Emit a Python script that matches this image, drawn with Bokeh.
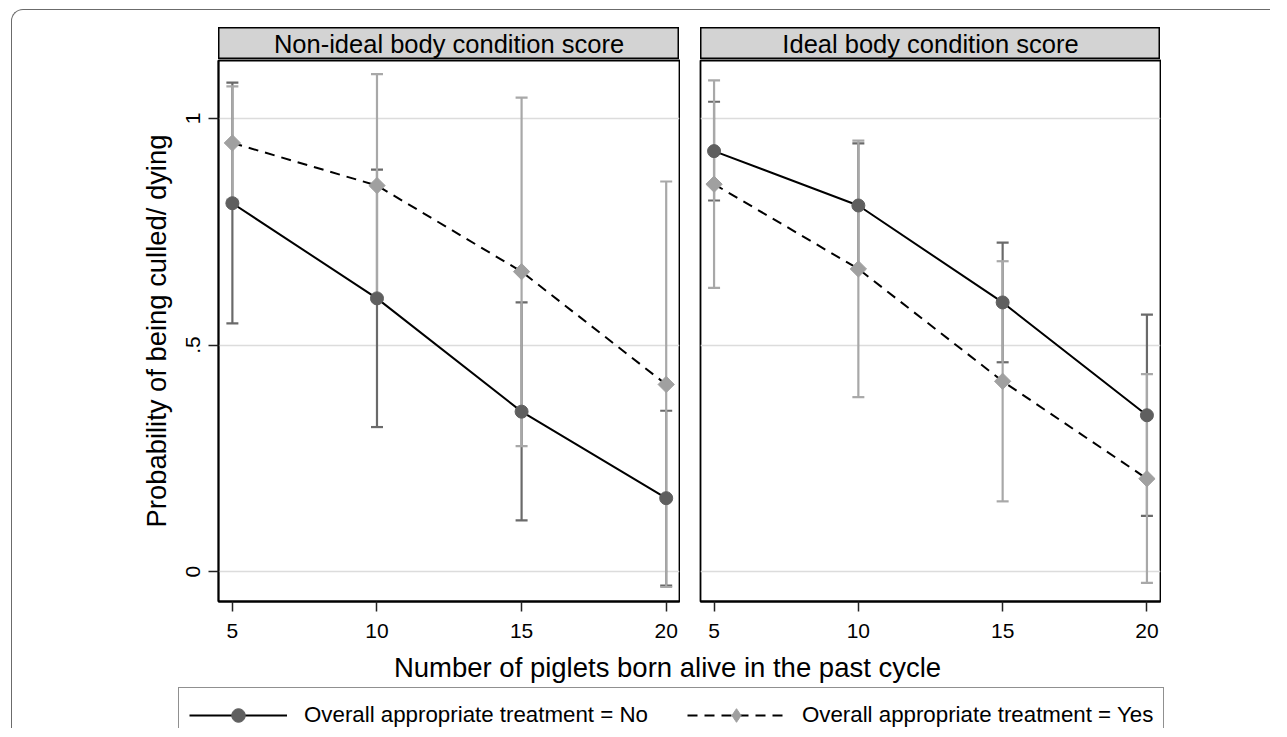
from bokeh.plotting import figure
from bokeh.models import (Range1d, FixedTicker, Whisker, TeeHead, ColumnDataSource, Label,
                          Legend, LegendItem, Spacer)
from bokeh.layouts import row, column
from bokeh.embed import file_html
from bokeh.resources import INLINE

# ---------------- data ----------------
piglets = [5, 10, 15, 20]
x_ticks = [5, 10, 15, 20]
y_ticks = [0, 0.5, 1]
y_tick_labels = {0: "0", 0.5: ".5", 1: "1"}
panel_titles = ["Non-ideal body condition score", "Ideal body condition score"]
series_labels = ["Overall appropriate treatment = No", "Overall appropriate treatment = Yes"]

nonideal_no = [0.813, 0.603, 0.353, 0.162]
nonideal_no_lo = [0.548, 0.319, 0.113, -0.031]
nonideal_no_hi = [1.079, 0.887, 0.594, 0.355]
nonideal_yes = [0.946, 0.852, 0.662, 0.413]
nonideal_yes_lo = [0.821, 0.606, 0.277, -0.034]
nonideal_yes_hi = [1.071, 1.098, 1.046, 0.861]

ideal_no = [0.928, 0.808, 0.594, 0.345]
ideal_no_lo = [0.819, 0.670, 0.462, 0.123]
ideal_no_hi = [1.037, 0.945, 0.726, 0.567]
ideal_yes = [0.855, 0.668, 0.420, 0.205]
ideal_yes_lo = [0.626, 0.385, 0.155, -0.025]
ideal_yes_hi = [1.084, 0.951, 0.685, 0.436]

FONT = "Liberation Sans"
DARK = "#5f5f5f"
DARK_CI = "#6a6a6a"
LIGHT = "#a0a0a0"
LIGHT_CI = "#a8a8a8"
DIAMOND = 11.5


def header(title, width):
    h = figure(width=width, height=32, x_range=Range1d(0, 1), y_range=Range1d(0, 1),
               x_axis_location=None, y_axis_location=None, min_border=0,
               toolbar_location=None, output_backend="svg",
               background_fill_color="#d3d3d3", border_fill_color="#d3d3d3",
               outline_line_color="black", outline_line_width=2)
    h.xgrid.visible = False
    h.ygrid.visible = False
    h.add_layout(Label(x=width / 2, y=16, x_units="screen", y_units="screen", text=title,
                       text_align="center", text_baseline="middle",
                       text_font=FONT, text_font_size="25.5px", text_color="black"))
    return h


def panel(width, min_left, xr, show_y, no, no_lo, no_hi, yes, yes_lo, yes_hi):
    p = figure(width=width, height=592, x_range=Range1d(*xr), y_range=Range1d(-0.066, 1.128),
               min_border_left=min_left, min_border_right=1, min_border_top=1, min_border_bottom=50,
               y_axis_location="left" if show_y else None,
               toolbar_location=None, output_backend="svg",
               outline_line_color="black", outline_line_width=1.8,
               background_fill_color="white", border_fill_color="white")
    p.xgrid.visible = False
    p.ygrid.ticker = FixedTicker(ticks=y_ticks)
    p.ygrid.grid_line_color = "#dcdcdc"
    p.ygrid.grid_line_width = 1.5

    p.xaxis.ticker = FixedTicker(ticks=x_ticks)
    p.xaxis.minor_tick_line_color = None
    p.xaxis.major_tick_out = 10
    p.xaxis.major_tick_in = 0
    p.xaxis.major_tick_line_color = "#222222"
    p.xaxis.major_tick_line_width = 1.5
    p.xaxis.axis_line_color = "black"
    p.xaxis.axis_line_width = 1.8
    p.xaxis.major_label_standoff = 12
    p.xaxis.major_label_text_font = FONT
    p.xaxis.major_label_text_font_size = "21px"
    p.xaxis.major_label_text_color = "black"

    if show_y:
        p.yaxis.ticker = FixedTicker(ticks=y_ticks)
        p.yaxis.major_label_overrides = y_tick_labels
        p.yaxis.major_label_orientation = "vertical"
        p.yaxis.minor_tick_line_color = None
        p.yaxis.major_tick_out = 10
        p.yaxis.major_tick_in = 0
        p.yaxis.major_tick_line_color = "#222222"
        p.yaxis.major_tick_line_width = 1.5
        p.yaxis.axis_line_color = "black"
        p.yaxis.axis_line_width = 1.8
        p.yaxis.major_label_standoff = 8
        p.yaxis.major_label_text_font = FONT
        p.yaxis.major_label_text_font_size = "21px"
        p.yaxis.major_label_text_color = "black"
        p.yaxis.axis_label = "Probability of being culled/ dying"
        p.yaxis.axis_label_text_font = FONT
        p.yaxis.axis_label_text_font_size = "27.4px"
        p.yaxis.axis_label_text_font_style = "normal"
        p.yaxis.axis_label_text_color = "black"
        p.yaxis.axis_label_standoff = 12

    src_no = ColumnDataSource(dict(x=piglets, y=no, lo=no_lo, hi=no_hi))
    src_yes = ColumnDataSource(dict(x=piglets, y=yes, lo=yes_lo, hi=yes_hi))

    for src, col in ((src_no, DARK_CI), (src_yes, LIGHT_CI)):
        w = Whisker(source=src, base="x", upper="hi", lower="lo", level="underlay",
                    line_color=col, line_width=2.2,
                    upper_head=TeeHead(size=12, line_color=col, line_width=2.2),
                    lower_head=TeeHead(size=12, line_color=col, line_width=2.2))
        p.add_layout(w)

    p.line("x", "y", source=src_no, line_color="black", line_width=2)
    p.line("x", "y", source=src_yes, line_color="black", line_width=2, line_dash="10 7")
    p.scatter("x", "y", source=src_no, marker="circle", size=13,
              fill_color=DARK, line_color=DARK)
    p.scatter("x", "y", source=src_yes, marker="square", size=DIAMOND, angle=0.785398,
              fill_color=LIGHT, line_color=LIGHT)
    return p


left = panel(668, 206, (4.52, 20.46), True,
             nonideal_no, nonideal_no_lo, nonideal_no_hi,
             nonideal_yes, nonideal_yes_lo, nonideal_yes_hi)
right = panel(481, 20, (4.53, 20.47), False,
              ideal_no, ideal_no_lo, ideal_no_hi,
              ideal_yes, ideal_yes_lo, ideal_yes_hi)

# ---------------- bottom: axis title + legend ----------------
# ranges chosen so the legend-only renderers (real data, x = 5..20) stay outside the view
bottom = figure(width=1258, height=77, x_range=Range1d(0, 1), y_range=Range1d(0, 1),
                x_axis_location=None, y_axis_location=None, min_border=0,
                toolbar_location=None, output_backend="svg", outline_line_color=None)
bottom.xgrid.visible = False
bottom.ygrid.visible = False
bottom.add_layout(Label(x=655, y=61, x_units="screen", y_units="screen",
                        text="Number of piglets born alive in the past cycle",
                        text_align="center", text_baseline="middle",
                        text_font=FONT, text_font_size="27.5px", text_color="black"))

leg_no = ColumnDataSource(dict(x=piglets, y=nonideal_no))
leg_yes = ColumnDataSource(dict(x=piglets, y=nonideal_yes))
l_no = bottom.line("x", "y", source=leg_no, line_color="black", line_width=2)
m_no = bottom.scatter("x", "y", source=leg_no, marker="circle", size=13,
                      fill_color=DARK, line_color=DARK)
l_yes = bottom.line("x", "y", source=leg_yes, line_color="black", line_width=2, line_dash="10 7")
m_yes = bottom.scatter("x", "y", source=leg_yes, marker="diamond", size=20,
                       fill_color=LIGHT, line_color=LIGHT)
legend = Legend(items=[LegendItem(label=series_labels[0], renderers=[l_no, m_no]),
                       LegendItem(label=series_labels[1], renderers=[l_yes, m_yes])],
                location=(166, -15), orientation="horizontal",
                glyph_width=98, glyph_height=34, label_height=34, label_standoff=17,
                spacing=39, padding=10, margin=0,
                border_line_color="#222222", border_line_width=1.5,
                background_fill_color="white", background_fill_alpha=1,
                label_text_font=FONT, label_text_font_size="22.3px", label_text_color="black")
bottom.add_layout(legend)

header_row = row(Spacer(width=206, height=32), header(panel_titles[0], 461),
                 Spacer(width=21, height=32), header(panel_titles[1], 460))
panel_row = row(left, right)

inner = column(Spacer(width=10, height=17), header_row, panel_row, bottom,
               styles={"border-top": "1.5px solid #6b6b6b",
                       "border-left": "1.5px solid #6b6b6b",
                       "border-top-left-radius": "12px"})
root = row(Spacer(width=11, height=10), column(Spacer(width=10, height=9), inner))

open("out.html", "w").write(file_html(root, INLINE))
